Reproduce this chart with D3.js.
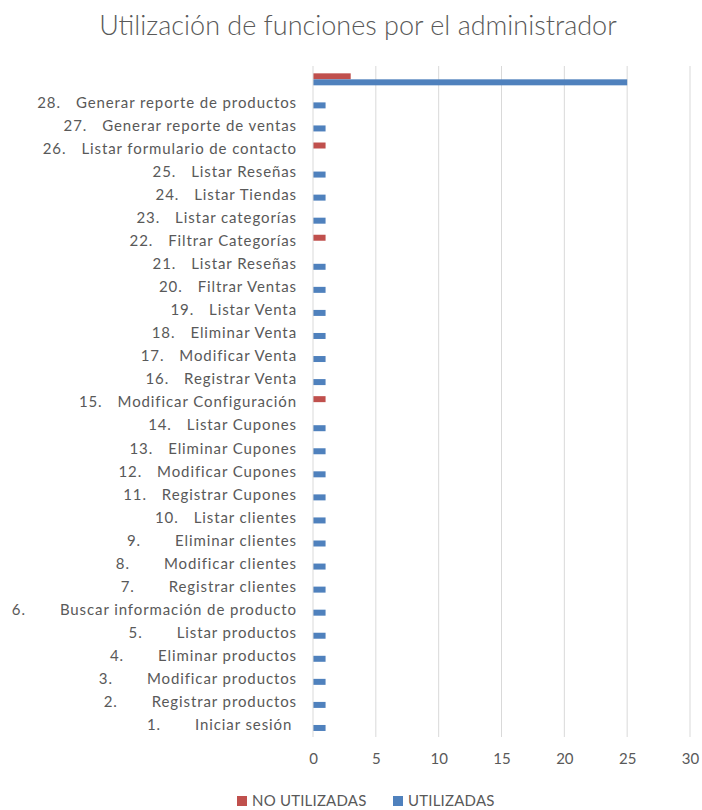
<!DOCTYPE html>
<html>
<head>
<meta charset="utf-8">
<script src="https://cdnjs.cloudflare.com/ajax/libs/d3/7.8.5/d3.min.js"></script>
<style>
  html, body { margin: 0; padding: 0; background: #ffffff; }
  svg { display: block; }
  text { font-family: Lato, "Open Sans", sans-serif; fill: #595959; }
</style>
</head>
<body>
<script>
// ---- Data ----
const title = "Utilización de funciones por el administrador";
const numbers = ["", "28.", "27.", "26.", "25.", "24.", "23.", "22.", "21.", "20.", "19.", "18.", "17.", "16.", "15.", "14.", "13.", "12.", "11.", "10.", "9.", "8.", "7.", "6.", "5.", "4.", "3.", "2.", "1."];
const names = ["",
  "Generar reporte de productos",
  "Generar reporte de ventas",
  "Listar formulario de contacto",
  "Listar Reseñas",
  "Listar Tiendas",
  "Listar categorías",
  "Filtrar Categorías",
  "Listar Reseñas",
  "Filtrar Ventas",
  "Listar Venta",
  "Eliminar Venta",
  "Modificar Venta",
  "Registrar Venta",
  "Modificar Configuración",
  "Listar Cupones",
  "Eliminar Cupones",
  "Modificar Cupones",
  "Registrar Cupones",
  "Listar clientes",
  "Eliminar clientes",
  "Modificar clientes",
  "Registrar clientes",
  "Buscar información de producto",
  "Listar productos",
  "Eliminar productos",
  "Modificar productos",
  "Registrar productos",
  "Iniciar sesión "
];
const seriesNames = ["NO UTILIZADAS", "UTILIZADAS"];
const noUtilizadas = [3, 0, 0, 1, 0, 0, 0, 1, 0, 0, 0, 0, 0, 0, 1, 0, 0, 0, 0, 0, 0, 0, 0, 0, 0, 0, 0, 0, 0];
const utilizadas   = [25, 1, 1, 0, 1, 1, 1, 0, 1, 1, 1, 1, 1, 1, 0, 1, 1, 1, 1, 1, 1, 1, 1, 1, 1, 1, 1, 1, 1];
const xTicks = [0, 5, 10, 15, 20, 25, 30];
const colors = ["#C0504D", "#4F81BD"];

// ---- Layout ----
const W = 702, H = 810;
const svg = d3.select("body").append("svg").attr("width", W).attr("height", H);

const keys = numbers.map((n, i) => "c" + i);
const x = d3.scaleLinear().domain([0, 30]).range([313, 690]);
const y = d3.scaleBand().domain(keys).range([67.8, 736.5]).paddingInner(0.48).paddingOuter(0.24);
const ySub = d3.scaleBand().domain(seriesNames).range([0, y.bandwidth()]);

const plotTop = 66, plotBottom = 737;

// title
svg.append("text")
  .attr("x", 358).attr("y", 35)
  .attr("text-anchor", "middle")
  .style("font-size", "27px")
  .style("font-weight", "300")
  .text(title);

// gridlines
svg.append("g").selectAll("line").data(xTicks.filter(d => d > 0)).join("line")
  .attr("x1", d => x(d)).attr("x2", d => x(d))
  .attr("y1", plotTop).attr("y2", plotBottom)
  .attr("stroke", "#D9D9D9").attr("stroke-width", 1);

// x axis tick labels
const xAxis = d3.axisBottom(x).tickValues(xTicks).tickSize(0).tickPadding(0);
const gx = svg.append("g").attr("transform", `translate(0,${plotBottom + 16})`).call(xAxis);
gx.select(".domain").remove();
gx.selectAll("text").style("font-size", "15px").attr("fill", "#595959").style("font-family", "Lato, sans-serif");

// bars
const rows = keys.map((k, i) => ({ key: k, vals: [noUtilizadas[i], utilizadas[i]] }));
const groups = svg.append("g").selectAll("g").data(rows).join("g")
  .attr("transform", d => `translate(0,${y(d.key)})`);
groups.selectAll("rect").data(d => d.vals.map((v, j) => ({ v, s: seriesNames[j], c: colors[j] }))).join("rect")
  .attr("x", x(0))
  .attr("y", d => ySub(d.s))
  .attr("width", d => x(d.v) - x(0))
  .attr("height", ySub.bandwidth())
  .attr("fill", d => d.c);

// vertical axis line at 0
svg.append("line")
  .attr("x1", x(0)).attr("x2", x(0))
  .attr("y1", plotTop).attr("y2", plotBottom)
  .attr("stroke", "#D9D9D9").attr("stroke-width", 1);

// category labels
const labelRight = 297;
const lab = svg.append("g");
keys.forEach((k, i) => {
  if (!names[i]) return;
  const cy = y(k) + y.bandwidth() / 2;
  const t = lab.append("text")
    .attr("x", labelRight).attr("y", cy).attr("dy", "0.35em")
    .attr("text-anchor", "end")
    .style("font-size", "15px")
    .style("letter-spacing", "0.9px")
    .style("white-space", "pre")
    .text(names[i]);
  const w = t.node().getComputedTextLength();
  const gap = numbers[i].length >= 3 ? 15 : 34;
  lab.append("text")
    .attr("x", labelRight - w - gap).attr("y", cy).attr("dy", "0.35em")
    .attr("text-anchor", "end")
    .style("font-size", "15px")
    .style("letter-spacing", "0.9px")
    .text(numbers[i]);
});

// legend
const leg = svg.append("g").attr("transform", "translate(0,801)");
const legX = [237, 393];
seriesNames.forEach((s, j) => {
  leg.append("rect").attr("x", legX[j]).attr("y", -5).attr("width", 10).attr("height", 10).attr("fill", colors[j]);
  leg.append("text").attr("x", legX[j] + 15).attr("y", 0).attr("dy", "0.35em")
    .style("font-size", "15px").style("letter-spacing", "0.2px").text(s);
});
</script>
</body>
</html>
